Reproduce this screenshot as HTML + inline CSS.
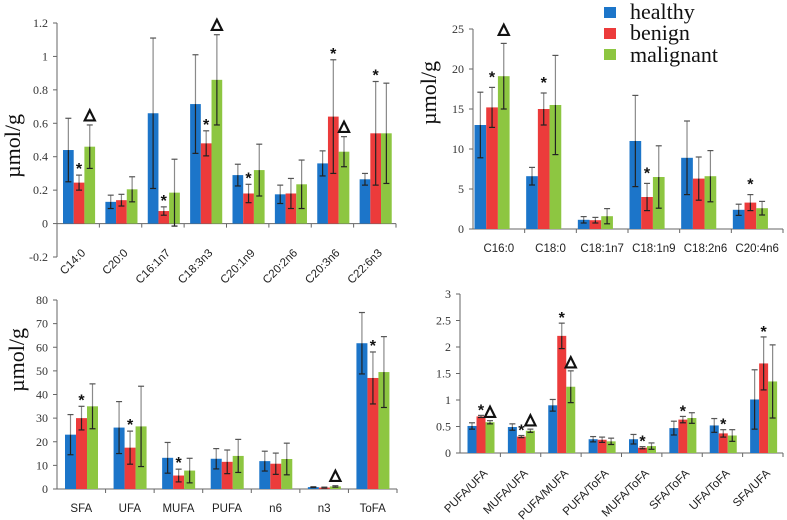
<!DOCTYPE html>
<html><head><meta charset="utf-8">
<style>
html,body{margin:0;padding:0;background:#fff;}
svg{display:block;}
.tk{font-family:"Liberation Serif",serif;font-size:12px;fill:#333;}
.cat{font-family:"Liberation Sans",sans-serif;font-size:11.5px;fill:#222;}
.yl{font-family:"Liberation Serif",serif;font-size:22px;fill:#111;}
.mk{font-family:"Liberation Sans",sans-serif;font-weight:bold;fill:#111;}
.lg{font-family:"Liberation Serif",serif;font-size:22px;fill:#111;}
</style></head>
<body>
<svg id="chart" width="787" height="520" viewBox="0 0 787 520" xmlns="http://www.w3.org/2000/svg">
  <g>
    <g><rect x="604" y="7" width="12" height="11" fill="#1c75c9"/><text class="lg" x="630" y="19">healthy</text></g>
    <g><rect x="604" y="28" width="12" height="11" fill="#ec3b3b"/><text class="lg" x="630" y="40">benign</text></g>
    <g><rect x="604" y="49" width="12" height="11" fill="#8dc641"/><text class="lg" x="630" y="62">malignant</text></g>
  </g>
</svg>
<script>
// Panel A: minor fatty acids
const catsA = ["C14:0","C20:0","C16:1n7","C18:3n3","C20:1n9","C20:2n6","C20:3n6","C22:6n3"];
const healthyA = [0.44,0.13,0.66,0.715,0.29,0.175,0.36,0.265];
const benignA = [0.245,0.14,0.075,0.48,0.18,0.18,0.64,0.54];
const malignantA = [0.46,0.205,0.185,0.86,0.32,0.235,0.43,0.54];
const healthyErrA = [0.19,0.04,0.45,0.295,0.065,0.055,0.075,0.035];
const benignErrA = [0.045,0.035,0.025,0.075,0.055,0.09,0.34,0.31];
const malignantErrA = [0.13,0.075,0.2,0.27,0.155,0.145,0.09,0.3];
const benignMarkA = ["*","","*","*","*","","*","*"];
const malignantMarkA = ["△","","","△","","","△",""];
const ticksA = [-0.2,0,0.2,0.4,0.6,0.8,1,1.2];
const tickLabelsA = ["-0.2","0","0.2","0.4","0.6","0.8","1","1.2"];

// Panel B: major fatty acids
const catsB = ["C16:0","C18:0","C18:1n7","C18:1n9","C18:2n6","C20:4n6"];
const healthyB = [13,6.6,1.15,11,8.9,2.4];
const benignB = [15.2,15,1.1,4,6.3,3.3];
const malignantB = [19.1,15.5,1.6,6.5,6.6,2.6];
const healthyErrB = [4.1,1.1,0.4,5.7,4.6,0.7];
const benignErrB = [2.5,2,0.35,1.7,2.7,1];
const malignantErrB = [4.1,6.2,0.95,3.9,3.2,0.85];
const benignMarkB = ["*","*","","*","","*"];
const malignantMarkB = ["△","","","","",""];
const ticksB = [0,5,10,15,20,25];
const tickLabelsB = ["0","5","10","15","20","25"];

// Panel C: totals
const catsC = ["SFA","UFA","MUFA","PUFA","n6","n3","ToFA"];
const healthyC = [23,26,13.2,12.8,11.8,0.8,61.7];
const benignC = [30,17.5,5.7,11.5,10.7,0.6,47];
const malignantC = [35,26.5,7.8,14,12.7,1.1,49.5];
const healthyErrC = [8.5,11,6.5,4.3,4.2,0.2,13];
const benignErrC = [5,7,2.7,5,4.5,0.2,11];
const malignantErrC = [9.5,17,5.2,7,6.7,0.3,15];
const benignMarkC = ["*","*","*","","","","*"];
const malignantMarkC = ["","","","","","△",""];
const ticksC = [0,10,20,30,40,50,60,70,80];
const tickLabelsC = ["0","10","20","30","40","50","60","70","80"];

// Panel D: ratios
const catsD = ["PUFA/UFA","MUFA/UFA","PUFA/MUFA","PUFA/ToFA","MUFA/ToFA","SFA/ToFA","UFA/ToFA","SFA/UFA"];
const healthyD = [0.51,0.49,0.9,0.26,0.26,0.47,0.52,1.01];
const benignD = [0.69,0.31,2.21,0.25,0.1,0.63,0.37,1.69];
const malignantD = [0.58,0.42,1.25,0.22,0.13,0.66,0.33,1.35];
const healthyErrD = [0.06,0.06,0.11,0.05,0.09,0.13,0.13,0.56];
const benignErrD = [0.02,0.02,0.24,0.05,0.02,0.06,0.07,0.5];
const malignantErrD = [0.03,0.03,0.3,0.06,0.06,0.1,0.11,0.69];
const benignMarkD = ["*","*","*","","*","*","*","*"];
const malignantMarkD = ["△","△","△","","","","",""];
const ticksD = [0,0.5,1,1.5,2,2.5,3];
const tickLabelsD = ["0","0.5","1","1.5","2","2.5","3"];

const NS = "http://www.w3.org/2000/svg";
const svg = document.getElementById("chart");
const COLORS = ["#1c75c9","#ec3b3b","#8dc641"];
const SERIES = ["healthy","benign","malignant"];

function mk(tag, attrs, parent){
  const e = document.createElementNS(NS, tag);
  for (const k in attrs) e.setAttribute(k, attrs[k]);
  parent.appendChild(e);
  return e;
}

function drawPanel(p){
  const g = mk("g", {}, svg);
  
  
  const yScale = v => p.y0 - (v - p.vmin) / (p.vmax - p.vmin) * (p.y0 - p.y1);
  const zeroY = yScale(0);
  const n = p.cats.length;
  const cw = (p.x1 - p.x0) / n;
  const ya = mk("line", {x1:p.x0, y1:p.y1, x2:p.x0, y2:p.y0, stroke:"#666", "stroke-width":1}, g);
  
  
  p.ticks.forEach((t,i)=>{
    const y = yScale(t);
    mk("line", {x1:p.x0-4, y1:y, x2:p.x0, y2:y, stroke:"#666"}, g);
    const tx = mk("text", {x:p.x0-9, y:y+4, "text-anchor":"end", class:"tk"}, g);
    tx.textContent = p.tickLabels[i];
    
    
  });
  const xa = mk("line", {x1:p.x0, y1:zeroY, x2:p.x1, y2:zeroY, stroke:"#666"}, g);
  
  
  for (let i=1;i<=n;i++){
    mk("line", {x1:p.x0+i*cw, y1:zeroY, x2:p.x0+i*cw, y2:zeroY+4, stroke:"#666"}, g);
  }
  if (p.ylx > 0){
    const yt = mk("text", {x:p.ylx, y:p.yly, "text-anchor":"middle", class:"yl", transform:`rotate(-90 ${p.ylx} ${p.yly})`}, g);
    yt.textContent = "µmol/g";
    
    
  }
  const vals = [p.h, p.b, p.m];
  const errs = [p.he, p.be, p.me];
  for (let i=0;i<n;i++){
    const gx = p.x0 + i*cw + p.off;
    for (let s=0;s<3;s++){
      const v = vals[s][i], e = errs[s][i];
      const x = gx + s*p.bw;
      const yv = yScale(v);
      const r = mk("rect", {x:x, y:Math.min(yv,zeroY), width:p.bw, height:Math.abs(zeroY-yv), fill:COLORS[s]}, g);
      
      
      const cx = x + p.bw/2;
      const yt2 = yScale(v+e), yb = yScale(v-e);
      const eb = mk("g", {}, g);
      
      
      mk("line", {x1:cx, y1:yt2, x2:cx, y2:yv, stroke:"#8a8a8a", "stroke-width":1.2}, eb);
      mk("line", {x1:cx-3, y1:yt2, x2:cx+3, y2:yt2, stroke:"#555", "stroke-width":1.2}, eb);
      mk("line", {x1:cx, y1:yv, x2:cx, y2:yb, stroke:"#222", "stroke-width":1.2}, eb);
      mk("line", {x1:cx-3, y1:yb, x2:cx+3, y2:yb, stroke:"#222", "stroke-width":1.2}, eb);
      const marks = s===1 ? p.bm : (s===2 ? p.mm : null);
      if (marks && marks[i]){
        const isStar = marks[i]==="*";
        const t = mk("text", {x:cx, y:yt2 - p.mgap + (isStar? 9 : 4), "text-anchor":"middle", class:"mk", "font-size": isStar? p.starSize : p.triSize, stroke: isStar ? "none" : "#111", "stroke-width": isStar ? 0 : 0.8}, g);
        t.textContent = marks[i];
        
        
      }
    }
    const lx = p.x0 + i*cw + cw/2;
    let lab;
    if (p.rot){
      const ax = lx + p.rdx, ay = zeroY + p.rdy;
      lab = mk("text", {x:ax, y:ay, "text-anchor":"end", class:"cat", transform:`rotate(-45 ${ax} ${ay})`}, g);
    } else {
      lab = mk("text", {x:lx, y:p.labY, "text-anchor":"middle", class:"cat"}, g);
    }
    lab.textContent = p.cats[i];
    
    
  }
}

drawPanel({name:"panel-minor-fatty-acids", cats:catsA, h:healthyA, b:benignA, m:malignantA, he:healthyErrA, be:benignErrA, me:malignantErrA, bm:benignMarkA, mm:malignantMarkA, ticks:ticksA, tickLabels:tickLabelsA,
  vmin:-0.2, vmax:1.2, x0:57, x1:396, y0:257, y1:23, off:6, bw:10.7, rot:true, rdx:8, rdy:30, mgap:10, starSize:16, triSize:15, ylx:20, yly:146});
drawPanel({name:"panel-major-fatty-acids", cats:catsB, h:healthyB, b:benignB, m:malignantB, he:healthyErrB, be:benignErrB, me:malignantErrB, bm:benignMarkB, mm:malignantMarkB, ticks:ticksB, tickLabels:tickLabelsB,
  vmin:0, vmax:25, x0:473, x1:783, y0:229, y1:29, off:1.5, bw:11.7, rot:false, labY:252, mgap:14, starSize:16, triSize:15, ylx:436, yly:93});
drawPanel({name:"panel-fatty-acid-totals", cats:catsC, h:healthyC, b:benignC, m:malignantC, he:healthyErrC, be:benignErrC, me:malignantErrC, bm:benignMarkC, mm:malignantMarkC, ticks:ticksC, tickLabels:tickLabelsC,
  vmin:0, vmax:80, x0:57, x1:397, y0:489, y1:300, off:8, bw:11, rot:false, labY:512, mgap:10, starSize:16, triSize:15, ylx:24, yly:360});
drawPanel({name:"panel-fatty-acid-ratios", cats:catsD, h:healthyD, b:benignD, m:malignantD, he:healthyErrD, be:benignErrD, me:malignantErrD, bm:benignMarkD, mm:malignantMarkD, ticks:ticksD, tickLabels:tickLabelsD,
  vmin:0, vmax:3, x0:460, x1:783, y0:453, y1:294, off:7.5, bw:9, rot:true, rdx:8, rdy:21, mgap:9, starSize:16, triSize:15, ylx:-100, yly:-100});
</script>
</body></html>
